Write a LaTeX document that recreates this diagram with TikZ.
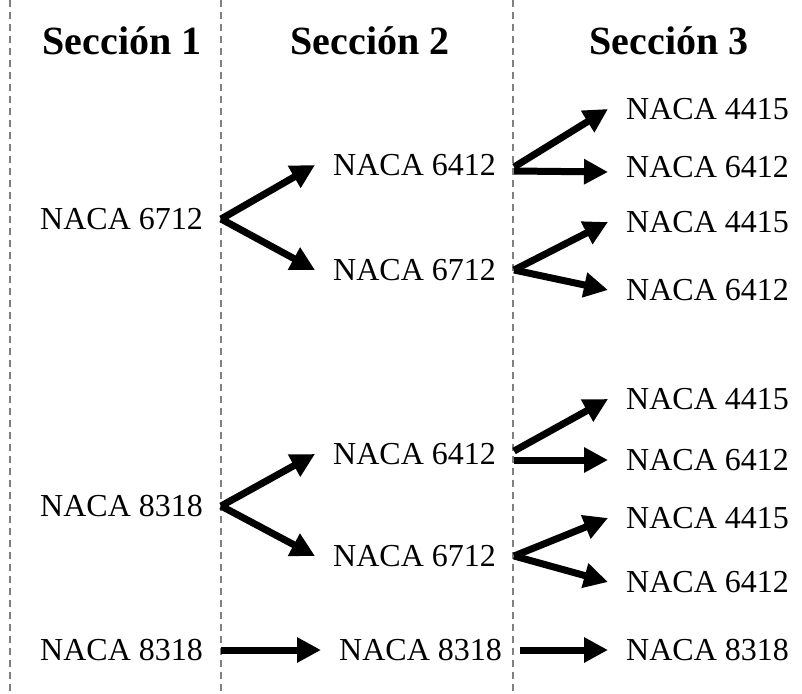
\documentclass[tikz,border=0pt]{standalone}
\usepackage{fontspec}
\setmainfont{Liberation Serif}
\usetikzlibrary{positioning,arrows.meta}

\begin{document}
\begin{tikzpicture}[x=1pt, y=-1pt,
    perfil/.style={anchor=west, inner xsep=18pt, inner ysep=0pt, font=\fontsize{32}{38}\selectfont},
    seccion/.style={anchor=base, font=\bfseries\fontsize{40}{46}\selectfont},
    division/.style={gray, dash pattern=on 7pt off 5pt, line width=1.2pt},
    flecha/.style={-{Triangle[length=24pt, width=24pt]}, line width=7pt}]
                    \useasboundingbox (0,0) rectangle (802,693);

                    % divisiones
                    \draw[division] (10,0) -- (10,693);
                    \draw[division] (221,0) -- (221,693);
                    \draw[division] (513,0) -- (513,693);

                    \node [seccion] (h1) at (122,55) {Sección 1};
                    \node [seccion] (h2) at (370,55) {Sección 2};
                    \node [seccion] (h3) at (669,55) {Sección 3};

                    % seccion 1
                    \node [perfil] (a1) at (22,219) {NACA 6712};
                    \node [perfil] (a2) at (22,506) {NACA 8318};
                    \node [perfil] (a3) at (22,650) {NACA 8318};

                    % seccion 2
                    \node [perfil] (b1) at (315,165) {NACA 6412};
                    \node [perfil] (b2) at (315,270) {NACA 6712};
                    \node [perfil] (b3) at (315,454) {NACA 6412};
                    \node [perfil] (b4) at (315,556) {NACA 6712};
                    \node [perfil] (b5) at (321,650) {NACA 8318};

                    % seccion 3
                    \node [perfil] (c1) at (608,109) {NACA 4415};
                    \node [perfil] (c2) at (608,167) {NACA 6412};
                    \node [perfil] (c3) at (608,222) {NACA 4415};
                    \node [perfil] (c4) at (608,290) {NACA 6412};
                    \node [perfil] (c5) at (608,399) {NACA 4415};
                    \node [perfil] (c6) at (608,460) {NACA 6412};
                    \node [perfil] (c7) at (608,518) {NACA 4415};
                    \node [perfil] (c8) at (608,582) {NACA 6412};
                    \node [perfil] (c9) at (608,650) {NACA 8318};

                    \path[flecha]
                    (a1.east) edge (b1.west)
                    (a1.east) edge (b2.west)
                    (a2.east) edge (b3.west)
                    (a2.east) edge (b4.west)
                    (a3.east) edge (b5.west)
                    ([yshift=-2pt]b1.east) edge (c1.west)
                    ([yshift=-6pt]b1.east) edge ([yshift=-5pt]c2.west)
                    (b2.east) edge (c3.west)
                    (b2.east) edge (c4.west)
                    ([yshift=3pt]b3.east) edge (c5.west)
                    ([yshift=-6pt]b3.east) edge (c6.west)
                    (b4.east) edge (c7.west)
                    (b4.east) edge (c8.west)
                    (b5.east) edge (c9.west);

                \end{tikzpicture}
\end{document}
